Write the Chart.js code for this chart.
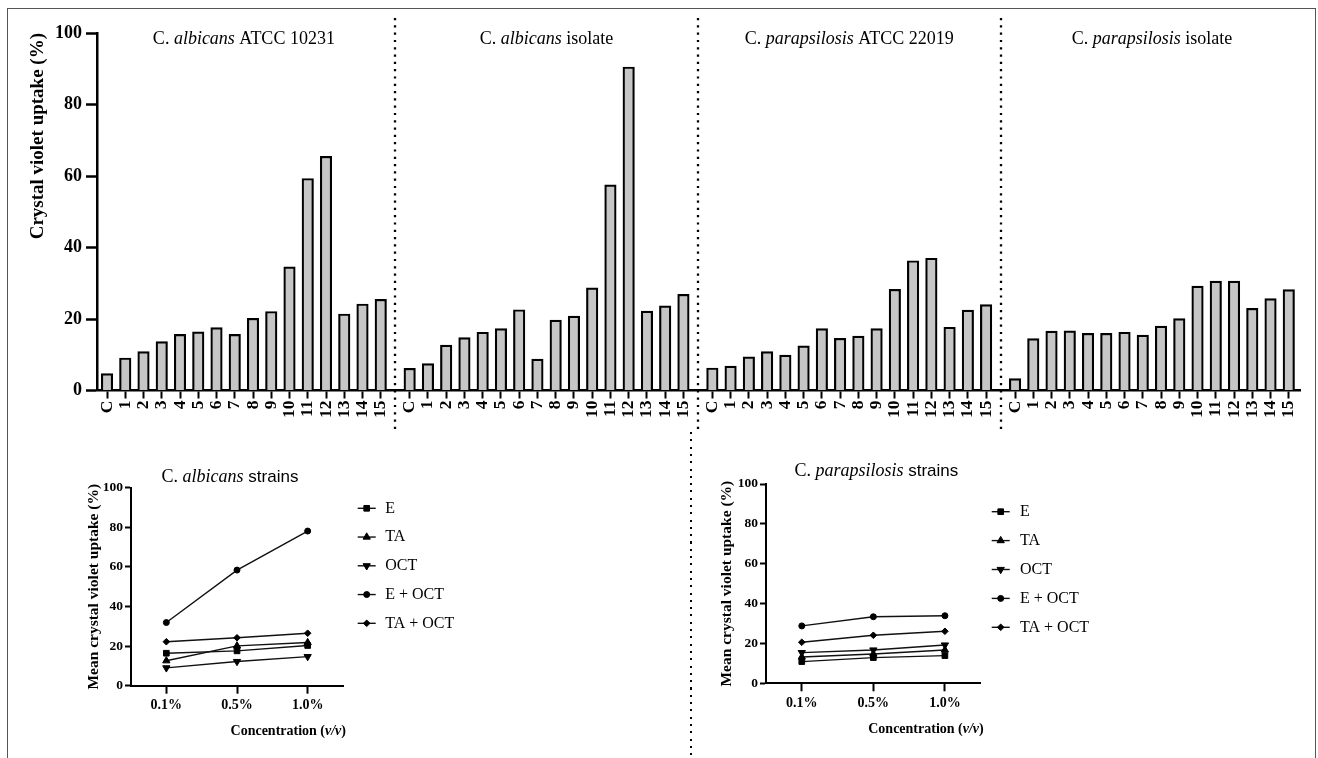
<!DOCTYPE html>
<html>
<head>
<meta charset="utf-8">
<script src="https://cdn.jsdelivr.net/npm/chart.js@4.4.1/dist/chart.umd.min.js"></script>
<style>
    html, body { margin: 0; padding: 0; background: #fff; }
    body { width: 1318px; height: 758px; position: relative; overflow: hidden; }
    canvas { position: absolute; }
    #frame { position: absolute; left: 7px; top: 8px; width: 1309px; height: 800px; border: 1px solid #555; box-sizing: border-box; }
    #sep { position: absolute; left: 690px; top: 432px; width: 2px; height: 326px;
           background: repeating-linear-gradient(to bottom, #000 0 2px, transparent 2px 7.3px); }
</style>
</head>
<body>
<div id="frame"></div>
<div id="sep"></div>
<canvas id="bars" width="1318" height="440" style="left:0;top:0"></canvas>
<canvas id="albicansChart" width="660" height="318" style="left:0;top:440px"></canvas>
<canvas id="parapsilosisChart" width="658" height="318" style="left:660px;top:440px"></canvas>
<script>
// ---- data: top panel ----
const tickLabels = ['C', '1', '2', '3', '4', '5', '6', '7', '8', '9', '10', '11', '12', '13', '14', '15'];
const groupTitles = [
    ['C. ', 'albicans', ' ATCC 10231'],
    ['C. ', 'albicans', ' isolate'],
    ['C. ', 'parapsilosis', ' ATCC 22019'],
    ['C. ', 'parapsilosis', ' isolate']
];
const albicansAtcc = [4.7, 9.1, 10.9, 13.7, 15.7, 16.4, 17.6, 15.7, 20.2, 22.1, 34.6, 59.3, 65.5, 21.4, 24.2, 25.5];
const albicansIsolate = [6.2, 7.5, 12.7, 14.8, 16.3, 17.3, 22.6, 8.8, 19.7, 20.8, 28.7, 57.5, 90.5, 22.2, 23.7, 26.9];
const parapsilosisAtcc = [6.3, 6.8, 9.4, 10.9, 9.9, 12.5, 17.3, 14.6, 15.2, 17.3, 28.3, 36.3, 37.0, 17.7, 22.5, 24.0];
const parapsilosisIsolate = [3.3, 14.5, 16.6, 16.7, 16.0, 16.0, 16.3, 15.5, 18.0, 20.1, 29.2, 30.6, 30.6, 23.0, 25.7, 28.2];

// ---- data: bottom panels ----
const concentrations = ['0.1%', '0.5%', '1.0%'];
const seriesNames = ['E', 'TA', 'OCT', 'E + OCT', 'TA + OCT'];
const albicansE = [16.4, 17.6, 20.3];
const albicansTA = [12.6, 20.1, 21.8];
const albicansOCT = [9.0, 12.2, 14.7];
const albicansEOCT = [31.9, 58.4, 78.1];
const albicansTAOCT = [22.2, 24.2, 26.5];
const parapsilosisE = [10.9, 12.9, 13.9];
const parapsilosisTA = [13.2, 14.7, 16.7];
const parapsilosisOCT = [15.4, 16.7, 19.2];
const parapsilosisEOCT = [28.8, 33.4, 33.9];
const parapsilosisTAOCT = [20.6, 24.1, 26.1];

const SERIF = '"Liberation Serif", "DejaVu Serif", serif';
const SANS = '"Liberation Sans", "DejaVu Sans", sans-serif';

// horizontal layout of the grouped bars (in slot units)
const GROUP_STEP = 16.585;
const groups = [albicansAtcc, albicansIsolate, parapsilosisAtcc, parapsilosisIsolate];
const barPoints = [];
groups.forEach((vals, g) => vals.forEach((v, i) => barPoints.push({x: g * GROUP_STEP + i, y: v})));
const tickPositions = barPoints.map(p => p.x);

function drawParts(ctx, parts, fonts, x, y, align) {
    const widths = parts.map((p, i) => { ctx.font = fonts[i]; return ctx.measureText(p).width; });
    const total = widths.reduce((a, b) => a + b, 0);
    let cx = align === 'center' ? x - total / 2 : (align === 'right' ? x - total : x);
    ctx.textAlign = 'left';
    ctx.textBaseline = 'middle';
    parts.forEach((p, i) => { ctx.font = fonts[i]; ctx.fillText(p, cx, y); cx += widths[i]; });
}

const groupDecor = {
    id: 'groupDecor',
    afterDraw(chart) {
        const {ctx, chartArea, scales: {x}} = chart;
        ctx.save();
        ctx.strokeStyle = '#000';
        ctx.lineWidth = 2.3;
        ctx.setLineDash([2.2, 5.1]);
        for (let g = 0; g < groups.length - 1; g++) {
            const px = Math.round(x.getPixelForValue(g * GROUP_STEP + 15 + (GROUP_STEP - 15) / 2));
            ctx.beginPath();
            ctx.moveTo(px, chartArea.top - 15);
            ctx.lineTo(px, chartArea.bottom + 42);
            ctx.stroke();
        }
        ctx.setLineDash([]);
        ctx.fillStyle = '#000';
        const f = '18px ' + SERIF;
        groupTitles.forEach((parts, g) => {
            const cx = x.getPixelForValue(g * GROUP_STEP + 7.5);
            drawParts(ctx, parts, [f, 'italic ' + f, f], cx, chartArea.top + 6, 'center');
        });
        ctx.restore();
    }
};

new Chart(document.getElementById('bars'), {
    type: 'bar',
    data: {
        datasets: [{
            data: barPoints,
            backgroundColor: '#c6c6c6',
            borderColor: '#000',
            borderWidth: 2.2,
            barThickness: 11.5,
            borderSkipped: 'start'
        }]
    },
    options: {
        responsive: false,
        animation: false,
        layout: { padding: { left: 17, right: 18, top: 33, bottom: 7.5 } },
        plugins: { legend: { display: false }, tooltip: { enabled: false } },
        scales: {
            x: {
                type: 'linear',
                offset: false,
                min: -0.548,
                max: 65.37,
                afterBuildTicks: s => { s.ticks = tickPositions.map(v => ({value: v})); },
                afterFit: s => { s.height = 42; },
                ticks: {
                    autoSkip: false, maxRotation: 90, minRotation: 90, padding: 2,
                    color: '#000', font: { family: SERIF, size: 17.5, weight: 'bold' },
                    callback: (v, i) => tickLabels[i % tickLabels.length]
                },
                grid: { offset: false, drawOnChartArea: false, drawTicks: true, tickLength: 8, tickWidth: 2, tickColor: '#000' },
                border: { color: '#000', width: 2.5 }
            },
            y: {
                min: 0,
                max: 100,
                afterFit: s => { s.width = 80; },
                ticks: { stepSize: 20, padding: 4, color: '#000', font: { family: SERIF, size: 18, weight: 'bold' } },
                grid: { drawOnChartArea: false, tickLength: 11, tickWidth: 2.5, tickColor: '#000' },
                border: { color: '#000', width: 2.5 },
                title: {
                    display: true, text: 'Crystal violet uptake (%)', align: 'end', color: '#000',
                    font: { family: SERIF, size: 19, weight: 'bold' }, padding: { top: 9.6, bottom: 0 }
                }
            }
        }
    },
    plugins: [groupDecor]
});

// ---- bottom panels ----
const seriesStyles = [
    { pointStyle: 'rect', pointRadius: 4, pointRotation: 0 },
    { pointStyle: 'triangle', pointRadius: 4.2, pointRotation: 0 },
    { pointStyle: 'triangle', pointRadius: 4.2, pointRotation: 180 },
    { pointStyle: 'circle', pointRadius: 3, pointRotation: 0 },
    { pointStyle: 'rectRot', pointRadius: 3.3, pointRotation: 0 }
];

const strainDecor = {
    id: 'strainDecor',
    afterDraw(chart, args, opts) {
        const {ctx, chartArea} = chart;
        ctx.save();
        ctx.fillStyle = '#000';
        // title
        drawParts(ctx, opts.title, ['18px ' + SERIF, 'italic 18px ' + SERIF, '17px ' + SANS],
            (chartArea.left + chartArea.right) / 2 + opts.titleDx, chartArea.top - opts.titleDy, 'center');
        // x axis title
        const bf = 'bold 14px ' + SERIF;
        drawParts(ctx, ['Concentration (', 'v/v', ')'], [bf, 'italic ' + bf, bf],
            chartArea.right + 3, chartArea.bottom + 46, 'right');
        // legend
        const dp = Chart.helpers && Chart.helpers.drawPoint;
        chart.data.datasets.forEach((ds, i) => {
            const y = opts.legendY + i * opts.legendDy;
            ctx.strokeStyle = '#111';
            ctx.lineWidth = 1.4;
            ctx.beginPath();
            ctx.moveTo(opts.legendX - 9, y);
            ctx.lineTo(opts.legendX + 9, y);
            ctx.stroke();
            ctx.fillStyle = '#000';
            ctx.strokeStyle = '#000';
            ctx.lineWidth = 1;
            if (dp) {
                dp(ctx, { pointStyle: ds.pointStyle, radius: ds.pointRadius, rotation: ds.pointRotation, borderWidth: 1 }, opts.legendX, y);
            } else {
                ctx.beginPath(); ctx.arc(opts.legendX, y, 3, 0, Math.PI * 2); ctx.fill();
            }
            ctx.font = '16px ' + SERIF;
            ctx.textAlign = 'left';
            ctx.textBaseline = 'middle';
            ctx.fillText(ds.label, opts.legendX + opts.legendTextDx, y);
        });
        ctx.restore();
    }
};

function strainChart(id, series, deco, lay) {
    const datasets = series.map((vals, i) => Object.assign({
        label: seriesNames[i],
        data: vals,
        borderColor: '#111',
        borderWidth: 1.4,
        backgroundColor: '#000',
        pointBackgroundColor: '#000',
        pointBorderColor: '#000',
        pointBorderWidth: 1,
        fill: false,
        tension: 0
    }, seriesStyles[i]));
    return new Chart(document.getElementById(id), {
        type: 'line',
        data: { labels: concentrations, datasets: datasets },
        options: {
            responsive: false,
            animation: false,
            layout: { padding: lay.padding },
            plugins: { legend: { display: false }, tooltip: { enabled: false }, strainDecor: deco },
            scales: {
                x: {
                    offset: true,
                    afterFit: s => { s.height = 40; },
                    ticks: { padding: 3.5, color: '#000', font: { family: SERIF, size: 14, weight: 'bold' } },
                    grid: { offset: false, drawOnChartArea: false, tickLength: 8, tickWidth: 2, tickColor: '#000' },
                    border: { color: '#000', width: 2 }
                },
                y: {
                    min: 0,
                    max: 100,
                    afterFit: s => { s.width = 50; },
                    ticks: { stepSize: 20, padding: 2, color: '#000', font: { family: SERIF, size: 13.5, weight: 'bold' } },
                    grid: { drawOnChartArea: false, tickLength: 6, tickWidth: 2, tickColor: '#000' },
                    border: { color: '#000', width: 2 },
                    title: {
                        display: true, text: 'Mean crystal violet uptake (%)', color: '#000',
                        font: { family: SERIF, size: 15.5, weight: 'bold' }, padding: { top: lay.titlePad, bottom: 0 }
                    }
                }
            }
        },
        plugins: [strainDecor]
    });
}

strainChart('albicansChart',
    [albicansE, albicansTA, albicansOCT, albicansEOCT, albicansTAOCT],
    { title: ['C. ', 'albicans', ' strains'], titleDx: -7, titleDy: 10, legendX: 366.7, legendY: 68.3, legendDy: 28.75, legendTextDx: 18.5 },
    { padding: { left: 81, right: 317, top: 47.7, bottom: 32.3 }, titlePad: 3.5 });

strainChart('parapsilosisChart',
    [parapsilosisE, parapsilosisTA, parapsilosisOCT, parapsilosisEOCT, parapsilosisTAOCT],
    { title: ['C. ', 'parapsilosis', ' strains'], titleDx: 3, titleDy: 13, legendX: 340.7, legendY: 71.7, legendDy: 28.9, legendTextDx: 19.3 },
    { padding: { left: 56, right: 337.3, top: 44, bottom: 34.7 }, titlePad: 1.5 });
</script>
</body>
</html>
